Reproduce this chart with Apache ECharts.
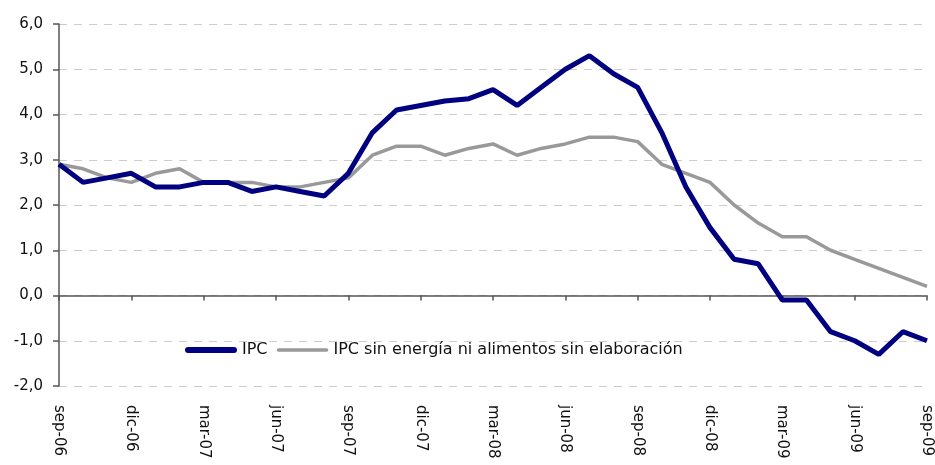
<!DOCTYPE html>
<html>
<head>
<meta charset="utf-8">
<script src="https://cdn.jsdelivr.net/npm/echarts@6/dist/echarts.min.js"></script>
<style>html,body{margin:0;padding:0;background:#fff}#c{width:935px;height:465px}</style>
</head>
<body>
<div id="c"></div>
<script>
const categories = [
  'sep-06','oct-06','nov-06','dic-06',
  'ene-07','feb-07','mar-07','abr-07','may-07','jun-07','jul-07','ago-07','sep-07','oct-07','nov-07','dic-07',
  'ene-08','feb-08','mar-08','abr-08','may-08','jun-08','jul-08','ago-08','sep-08','oct-08','nov-08','dic-08',
  'ene-09','feb-09','mar-09','abr-09','may-09','jun-09','jul-09','ago-09','sep-09'
];
const ipc = [
  2.9, 2.5, 2.6, 2.7,
  2.4, 2.4, 2.5, 2.5, 2.3, 2.4, 2.3, 2.2, 2.7, 3.6, 4.1, 4.2,
  4.3, 4.35, 4.55, 4.2, 4.6, 5.0, 5.3, 4.9, 4.6, 3.6, 2.4, 1.5,
  0.8, 0.7, -0.1, -0.1, -0.8, -1.0, -1.3, -0.8, -1.0
];
const ipcCore = [
  2.9, 2.8, 2.6, 2.5,
  2.7, 2.8, 2.5, 2.5, 2.5, 2.4, 2.4, 2.5, 2.6, 3.1, 3.3, 3.3,
  3.1, 3.25, 3.35, 3.1, 3.25, 3.35, 3.5, 3.5, 3.4, 2.9, 2.7, 2.5,
  2.0, 1.6, 1.3, 1.3, 1.0, 0.8, 0.6, 0.4, 0.2
];
const seriesNames = ['IPC', 'IPC sin energía ni alimentos sin elaboración'];
const yTicks = { min: -2, max: 6, step: 1 };

const FONT = '"DejaVu Sans", sans-serif';
const chart = echarts.init(document.getElementById('c'));
chart.setOption({
  animation: false,
  backgroundColor: '#ffffff',
  grid: { left: 59, right: 8, top: 24, bottom: 79 },
  legend: {
    left: 180, top: 337,
    itemWidth: 52, itemHeight: 6, itemGap: 9,
    textStyle: { fontFamily: FONT, fontSize: 16, color: '#111' },
    data: [
      { name: seriesNames[0], icon: 'path://M3,0L49,0A3,3 0 0 1 49,6L3,6A3,3 0 0 1 3,0Z' },
      { name: seriesNames[1], icon: 'path://M0,0L0,0M0,6L0,6M2,1.2L50,1.2A1.8,1.8 0 0 1 50,4.8L2,4.8A1.8,1.8 0 0 1 2,1.2Z' }
    ]
  },
  xAxis: [
    {
      type: 'category', data: categories, boundaryGap: false,
      axisLine: { onZero: true, lineStyle: { color: '#555', width: 1.5 } },
      axisTick: { show: true, interval: 2, length: 5, lineStyle: { color: '#555', width: 1.5 } },
      axisLabel: { show: false },
      splitLine: { show: false }
    },
    {
      type: 'category', data: categories, boundaryGap: false, position: 'bottom',
      axisLine: { show: false, onZero: false },
      axisTick: { show: false },
      axisLabel: { interval: 2, rotate: -90, margin: 19, fontFamily: FONT, fontSize: 15, color: '#111' },
      splitLine: { show: false }
    }
  ],
  yAxis: {
    type: 'value', min: yTicks.min, max: yTicks.max, interval: yTicks.step,
    axisLine: { show: true, lineStyle: { color: '#555', width: 1.5 } },
    axisTick: { show: true, length: 6, lineStyle: { color: '#555', width: 1.5 } },
    axisLabel: { margin: 16, fontFamily: FONT, fontSize: 15, color: '#111',
      formatter: v => v.toFixed(1).replace('.', ',') },
    splitLine: { show: true, lineStyle: { color: '#cccccc', type: [8, 7], width: 1 } }
  },
  series: [
    {
      name: seriesNames[1], type: 'line', data: ipcCore, xAxisIndex: 0,
      symbol: 'none', lineStyle: { color: '#999999', width: 3.5 }, itemStyle: { color: '#999999' }, z: 2
    },
    {
      name: seriesNames[0], type: 'line', data: ipc, xAxisIndex: 0,
      symbol: 'none', lineStyle: { color: '#000080', width: 5 }, itemStyle: { color: '#000080' }, z: 3
    }
  ]
});
</script>
</body>
</html>
